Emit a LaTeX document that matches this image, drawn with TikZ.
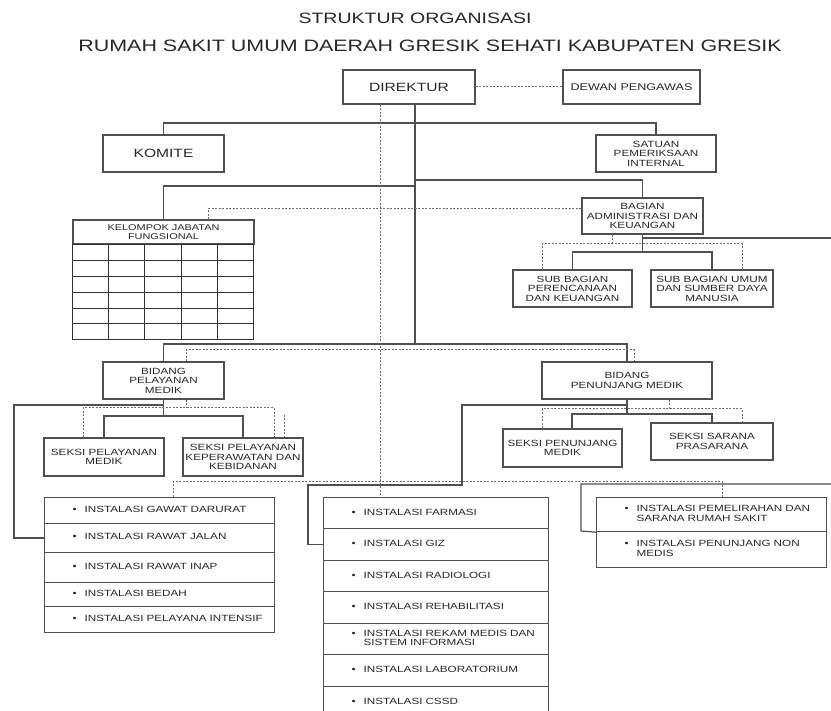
\documentclass[tikz,border=0pt]{standalone}
\usepackage{fontspec}
\setmainfont{Liberation Sans}[FakeStretch=1.3]
\usetikzlibrary{calc}
\definecolor{linec}{RGB}{80,80,80}
\definecolor{dotcol}{RGB}{110,110,110}
\definecolor{txtc}{RGB}{40,40,40}
\newcommand{\fs}[2]{\fontsize{#1}{#2}\selectfont}
\newcommand{\itm}[1]{\hspace*{28pt}\makebox[12pt][l]{\textbullet}\begin{tabular}[t]{@{}l@{}}#1\end{tabular}}

\begin{document}
\begin{tikzpicture}[x=1pt,y=-1pt,
		box/.style={draw=linec, line width=1.2pt, align=center, text=txtc, inner sep=1pt, font=\fs{9}{9.5}},
		row/.style={draw=linec, line width=1.2pt, anchor=north west, inner sep=0pt, align=left, text=txtc, font=\fs{9}{9.5}},
		conn/.style={draw=linec, line width=1.2pt},
		dotc/.style={draw=dotcol, line width=1pt, dash pattern=on 2pt off 1.5pt},
		gridc/.style={draw=black!80, line width=0.8pt}]
		\path[use as bounding box, fill=white] (0,0) rectangle (831,711);
		\node[font=\fs{15}{18}, text=txtc] (ttl) at (415,18) {STRUKTUR ORGANISASI};
		\node[font=\fs{16.5}{20}, text=txtc] (sub) at (430,46) {RUMAH SAKIT UMUM DAERAH GRESIK SEHATI KABUPATEN GRESIK};
		\node[box, minimum width=132pt, minimum height=34pt, font=\fs{12}{13}] (dir) at (409,87) {DIREKTUR};
		\node[box, minimum width=137pt, minimum height=34pt, font=\fs{9.7}{10}] (dewan) at (631.5,87) {DEWAN PENGAWAS};
		\node[box, minimum width=121pt, minimum height=37pt, font=\fs{12}{13}] (kom) at (163.5,153.5) {KOMITE};
		\node[box, minimum width=120pt, minimum height=37pt] (spi) at (656,153.5) {SATUAN\\PEMERIKSAAN\\INTERNAL};
		\node[box, minimum width=181pt, minimum height=24pt, font=\fs{8.4}{9}] (kjf) at (163.5,232) {KELOMPOK JABATAN\\FUNGSIONAL};
		\node[box, minimum width=121pt, minimum height=36pt] (adm) at (642.5,216) {BAGIAN\\ADMINISTRASI DAN\\KEUANGAN};
		\node[box, minimum width=119pt, minimum height=37pt] (subren) at (572.5,288.5) {SUB BAGIAN\\PERENCANAAN\\DAN KEUANGAN};
		\node[box, minimum width=122pt, minimum height=37pt] (subumum) at (712,288.5) {SUB BAGIAN UMUM\\DAN SUMBER DAYA\\MANUSIA};
		\node[box, minimum width=121pt, minimum height=37pt] (bpm) at (163.5,380.5) {BIDANG\\PELAYANAN\\MEDIK};
		\node[box, minimum width=170pt, minimum height=37pt] (bpen) at (627,380.5) {BIDANG\\PENUNJANG MEDIK};
		\node[box, minimum width=120pt, minimum height=38pt] (spm) at (104,457) {SEKSI PELAYANAN\\MEDIK};
		\node[box, minimum width=120pt, minimum height=38pt] (skep) at (243,457) {SEKSI PELAYANAN\\KEPERAWATAN DAN\\KEBIDANAN};
		\node[box, minimum width=119pt, minimum height=38pt] (spen) at (562.5,448) {SEKSI PENUNJANG\\MEDIK};
		\node[box, minimum width=122pt, minimum height=37pt] (ssar) at (712,441.5) {SEKSI SARANA\\PRASARANA};
		\node[row, text width=230pt, minimum height=26pt] (igd) at (44,497) {\itm{INSTALASI GAWAT DARURAT}};
		\node[row, text width=230pt, minimum height=29pt] (irj) at (44,523) {\itm{INSTALASI RAWAT JALAN}};
		\node[row, text width=230pt, minimum height=30pt] (iri) at (44,552) {\itm{INSTALASI RAWAT INAP}};
		\node[row, text width=230pt, minimum height=24pt] (ibd) at (44,582) {\itm{INSTALASI BEDAH}};
		\node[row, text width=230pt, minimum height=26pt] (iic) at (44,606) {\itm{INSTALASI PELAYANA INTENSIF}};
		\node[row, text width=225pt, minimum height=31pt] (ifar) at (323,497) {\itm{INSTALASI FARMASI}};
		\node[row, text width=225pt, minimum height=32pt] (igiz) at (323,528) {\itm{INSTALASI GIZ}};
		\node[row, text width=225pt, minimum height=31pt] (irad) at (323,560) {\itm{INSTALASI RADIOLOGI}};
		\node[row, text width=225pt, minimum height=32pt] (ireh) at (323,591) {\itm{INSTALASI REHABILITASI}};
		\node[row, text width=225pt, minimum height=31pt] (irm) at (323,623) {\itm{INSTALASI REKAM MEDIS DAN\\SISTEM INFORMASI}};
		\node[row, text width=225pt, minimum height=32pt] (ilab) at (323,654) {\itm{INSTALASI LABORATORIUM}};
		\node[row, text width=225pt, minimum height=32pt] (icssd) at (323,686) {\itm{INSTALASI CSSD}};
		\node[row, text width=230pt, minimum height=34pt] (ipsrs) at (596,497) {\itm{INSTALASI PEMELIRAHAN DAN\\SARANA RUMAH SAKIT}};
		\node[row, text width=230pt, minimum height=36pt] (ipnm) at (596,531) {\itm{INSTALASI PENUNJANG NON\\MEDIS}};
		\draw[gridc] (kjf.south west) rectangle ++(181,95);
		\foreach \i in {1,...,4} \draw[gridc] ($(kjf.south west)+(\i*36.2,0)$) -- ++(0,95);
		\foreach \j in {1,...,5} \draw[gridc] ($(kjf.south west)+(0,\j*15.83)$) -- ++(181,0);
		\coordinate (j1) at (415,123);
		\coordinate (j2) at (415,180);
		\coordinate (j3) at (415,186);
		\coordinate (j4) at (415,344);
		\coordinate (d0) at (380,104);
		\coordinate (k1) at (208,209);
		\coordinate (p1) at (186,350);
		\coordinate (p2) at (634,350);
		\coordinate (p3) at (83,408);
		\coordinate (p4) at (274,408);
		\coordinate (p5) at (284,415);
		\coordinate (m1) at (163.5,416);
		\coordinate (m2) at (14,405);
		\coordinate (a1) at (642.5,252);
		\coordinate (a2) at (642.5,238);
		\coordinate (a3) at (831,238);
		\coordinate (a4) at (612,244);
		\coordinate (a5) at (542,244);
		\coordinate (a6) at (742,244);
		\coordinate (b1) at (627,414);
		\coordinate (b2) at (572,414);
		\coordinate (b4) at (669,409);
		\coordinate (b5) at (542,409);
		\coordinate (b6) at (742,409);
		\coordinate (n1) at (462,405);
		\coordinate (n2) at (308,485);
		\coordinate (i1) at (173,482);
		\coordinate (i2) at (722,482);
		\coordinate (r1) at (831,484);
		\coordinate (r2) at (581,531);
		\draw[dotc] (dir.east) -- (dewan.west);
		\draw[conn] (dir.south -| j1) -- (j4);
		\draw[conn] (kom.north) |- (j1) -| (spi.north);
		\draw[conn] (kjf.north) |- (j3);
		\draw[conn] (j2) -| (adm.north);
		\draw[conn] (bpm.north) |- (j4) -| (bpen.north);
		\draw[dotc] (dir.south -| d0) -- (ifar.north -| d0);
		\draw[dotc] (kjf.north -| k1) -- (k1) -- (k1 -| adm.west);
		\draw[dotc] (bpm.north -| p1) |- (p2) -- (bpen.north -| p2);
		\draw[conn] (adm.south) -- (a1);
		\draw[conn] (subren.north) |- (a1) -| (subumum.north);
		\draw[conn] (a2) -- (a3);
		\draw[dotc] (adm.south -| a4) -- (a4);
		\draw[dotc] (subren.north -| a5) |- (a6) -- (subumum.north -| a6);
		\draw[conn] (bpm.south) -- (m1);
		\draw[conn] (spm.north) |- (m1) -| (skep.north);
		\draw[conn] (bpm.south |- m2) -- (m2) |- (irj.west);
		\draw[dotc] (bpm.south -| p1) -- (p1 |- p3);
		\draw[dotc] (spm.north -| p3) |- (p4) -- (skep.north -| p4);
		\draw[dotc] (p5) -- (skep.north -| p5);
		\draw[conn] (bpen.south) -- (b1);
		\draw[conn] (spen.north -| b2) |- (b1) -| (ssar.north);
		\draw[dotc] (bpen.south -| b4) -- (b4);
		\draw[dotc] (spen.north -| b5) |- (b6) -- (ssar.north -| b6);
		\draw[conn] (bpen.south |- n1) -- (n1) |- (n2) |- (igiz.west);
		\draw[dotc] (igd.north -| i1) |- (i2) -- (ipsrs.north -| i2);
		\draw[conn] (r1) -| (r2) -- (ipsrs.south west);
	\end{tikzpicture}
\end{document}
